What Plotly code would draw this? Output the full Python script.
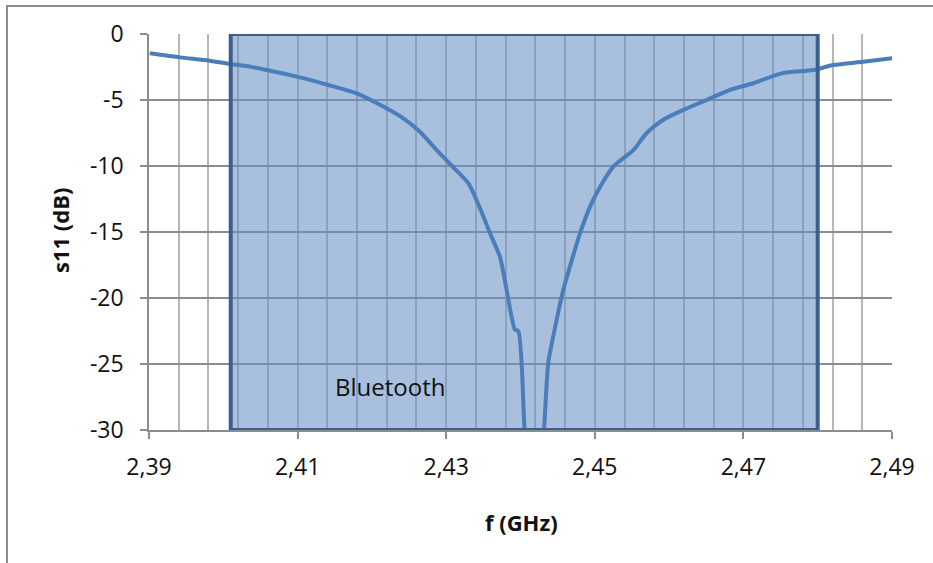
import plotly.graph_objects as go

freq_ghz = [2.3901, 2.39417, 2.39812, 2.4009, 2.40359, 2.40584, 2.40988, 2.41413, 2.41795,
            2.42153, 2.42423, 2.42647, 2.42872, 2.43078, 2.43297, 2.43455, 2.4359, 2.43724,
            2.43814, 2.43926, 2.4397, 2.4406, 2.4418, 2.4431, 2.44374, 2.44441, 2.44576,
            2.44666, 2.44801, 2.44935, 2.4507, 2.45249, 2.45518, 2.45698, 2.45922, 2.46191,
            2.46506, 2.4682, 2.47134, 2.47516, 2.47941, 2.4821, 2.48614, 2.49]
s11_db = [-1.46, -1.77, -2.02, -2.27, -2.47, -2.73, -3.23, -3.86, -4.5,
          -5.5, -6.39, -7.4, -8.79, -10.0, -11.3, -13.2, -15.1, -16.9,
          -19.4, -22.4, -22.5, -30.5, -38.0, -30.5, -24.9, -22.9, -19.4,
          -17.6, -15.1, -13.1, -11.6, -10.05, -8.8, -7.5, -6.5, -5.75,
          -5.0, -4.24, -3.73, -2.98, -2.73, -2.35, -2.1, -1.84]

band_start = 2.401
band_end = 2.48
band_label = "Bluetooth"
x_range = [2.39, 2.49]
y_range = [-30, 0]
y_tick_values = [0, -5, -10, -15, -20, -25, -30]
y_tick_labels = ["0", "-5", "-10", "-15", "-20", "-25", "-30"]

FONT = "Open Sans"

fig = go.Figure()
fig.add_trace(go.Scatter(x=freq_ghz, y=s11_db, mode="lines",
                         line=dict(color="#4a7ebb", width=4, shape="spline", smoothing=0.7),
                         showlegend=False))

# band fill (semi-transparent so gridlines show through)
fig.add_shape(type="rect", xref="x", yref="y", x0=band_start, x1=band_end,
              y0=y_range[0], y1=y_range[1], fillcolor="rgba(104,143,197,0.57)",
              line=dict(width=0), layer="between")
fig.add_shape(type="rect", xref="x", yref="y", x0=band_start, x1=band_end,
              y0=y_range[0], y1=y_range[1], fillcolor="rgba(0,0,0,0)",
              line=dict(color="#3b5e8e", width=4), layer="above")

# outer chart frame
fig.add_shape(type="rect", xref="paper", yref="paper",
              x0=(7 - 149) / 743, x1=2, y0=-2, y1=(430 - 6) / 396,
              line=dict(color="#8c8c8c", width=2), fillcolor="rgba(0,0,0,0)", layer="below")

fig.add_annotation(x=2.4225, y=-26.7, text=band_label, showarrow=False,
                   xanchor="center", yanchor="middle",
                   font=dict(family=FONT, size=24, color="#111111"))

fig.add_annotation(xref="paper", yref="paper", x=(60 - 149) / 743, y=(430 - 231) / 396,
                   text="<b>s11 (dB)</b>", textangle=-90, showarrow=False,
                   xanchor="center", yanchor="middle",
                   font=dict(family=FONT, size=22, color="#111111"))
fig.add_annotation(xref="paper", yref="paper", x=(521 - 149) / 743, y=(430 - 522) / 396,
                   text="<b>f (GHz)</b>", showarrow=False,
                   xanchor="center", yanchor="middle",
                   font=dict(family=FONT, size=22, color="#111111"))

fig.update_layout(
    width=933, height=563,
    margin=dict(l=149, r=41, t=34, b=133),
    paper_bgcolor="white", plot_bgcolor="white",
    separators=", ",
    font=dict(family=FONT, size=23, color="#111111"),
)
fig.update_xaxes(range=x_range, tick0=2.39, dtick=0.02, tickformat=".2f",
                 showgrid=True, gridcolor="#b7b7b7", gridwidth=1.5,
                 minor=dict(dtick=0.004, tick0=2.39, showgrid=True, gridcolor="#b7b7b7", gridwidth=1.5),
                 ticks="outside", ticklen=7, tickcolor="#8c8c8c", tickwidth=1.5,
                 showline=True, linecolor="#8c8c8c", linewidth=1.5,
                 zeroline=False, ticklabelstandoff=9)
fig.update_yaxes(range=y_range, tickvals=y_tick_values, ticktext=y_tick_labels,
                 showgrid=True, gridcolor="#8c8c8c", gridwidth=1.5,
                 ticks="outside", ticklen=7, tickcolor="#8c8c8c", tickwidth=1.5,
                 showline=True, linecolor="#8c8c8c", linewidth=1.5,
                 zeroline=False, ticklabelstandoff=12)

fig.write_html("out.html")
